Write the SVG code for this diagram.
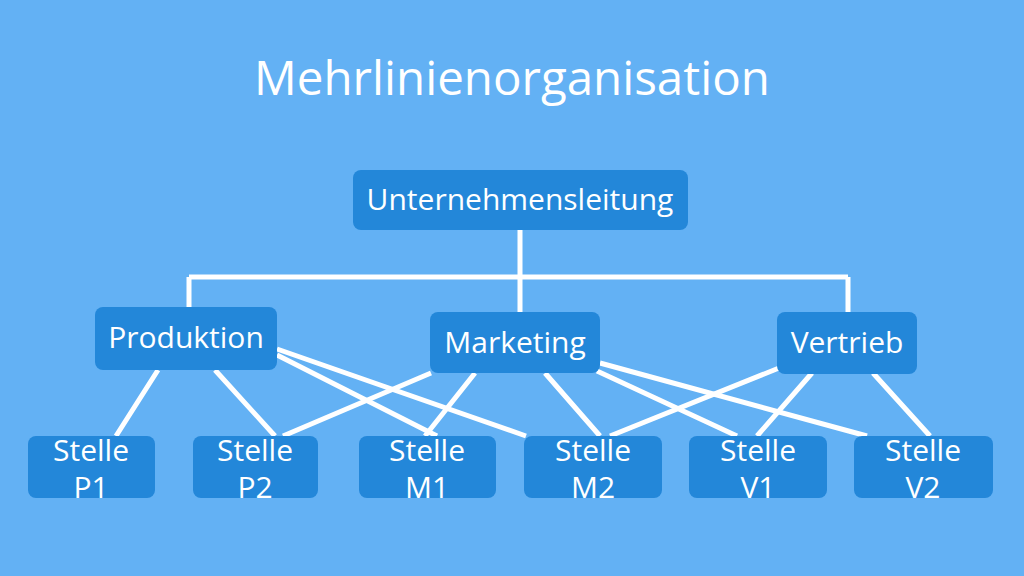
<svg xmlns="http://www.w3.org/2000/svg" width="1024" height="576" viewBox="0 0 1024 576">
<style>
.box{fill:#2387d9;}
.t{fill:#ffffff;font-family:"Open Sans","Noto Sans",sans-serif;font-size:30px;text-anchor:middle;}
.title{fill:#ffffff;font-family:"Open Sans","Noto Sans",sans-serif;font-size:47.5px;text-anchor:middle;}
.c{stroke:#ffffff;stroke-width:5;fill:none;}
</style>
<rect width="1024" height="576" fill="#63b1f4"/>
<text class="title" x="512" y="95">Mehrlinienorganisation</text>
<g id="connectors">
<path class="c" d="M520 230 V312 M189 277 H848 M189 277 V308 M848 277 V312"/>
<path class="c" d="M158 370 L116 436 M215 370 L275 436 M277 349 L526 436 M277 355 L437 436"/>
<path class="c" d="M431 373 L283 436 M475 373 L425 436 M545 373 L600 436 M597 371 L737 436 M600 363 L867 436"/>
<path class="c" d="M779 368 L610 436 M812 373 L757 436 M873 373 L930 436"/>
</g>
<g id="n-leitung"><rect class="box" x="353" y="170" width="335" height="60" rx="8"/><text class="t" x="520" y="210">Unternehmensleitung</text></g>
<g id="n-produktion"><rect class="box" x="95" y="307" width="182" height="63" rx="8"/><text class="t" x="186" y="348">Produktion</text></g>
<g id="n-marketing"><rect class="box" x="430" y="312" width="170" height="61" rx="8"/><text class="t" x="515" y="353">Marketing</text></g>
<g id="n-vertrieb"><rect class="box" x="777" y="312" width="140" height="62" rx="8"/><text class="t" x="847" y="353">Vertrieb</text></g>
<g id="n-p1"><rect class="box" x="28" y="436" width="127" height="62" rx="8"/><text class="t" x="91" y="461">Stelle</text><text class="t" x="91" y="498">P1</text></g>
<g id="n-p2"><rect class="box" x="193" y="436" width="125" height="62" rx="8"/><text class="t" x="255" y="461">Stelle</text><text class="t" x="255" y="498">P2</text></g>
<g id="n-m1"><rect class="box" x="359" y="436" width="137" height="62" rx="8"/><text class="t" x="427" y="461">Stelle</text><text class="t" x="427" y="498">M1</text></g>
<g id="n-m2"><rect class="box" x="524" y="436" width="138" height="62" rx="8"/><text class="t" x="593" y="461">Stelle</text><text class="t" x="593" y="498">M2</text></g>
<g id="n-v1"><rect class="box" x="689" y="436" width="138" height="62" rx="8"/><text class="t" x="758" y="461">Stelle</text><text class="t" x="758" y="498">V1</text></g>
<g id="n-v2"><rect class="box" x="854" y="436" width="139" height="62" rx="8"/><text class="t" x="923" y="461">Stelle</text><text class="t" x="923" y="498">V2</text></g>
</svg>
